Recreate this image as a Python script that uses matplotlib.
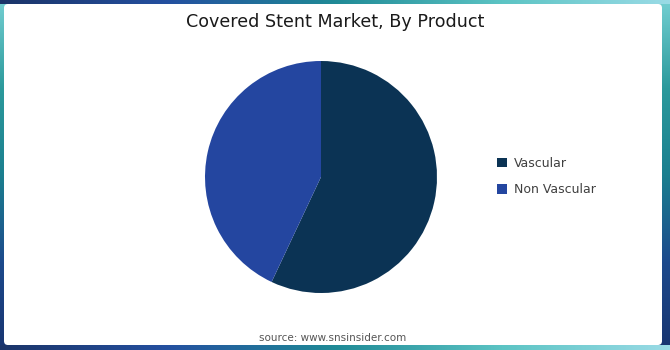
import matplotlib
matplotlib.use("Agg")
import matplotlib.pyplot as plt
import numpy as np
from matplotlib.patches import FancyBboxPatch
from matplotlib.colors import to_rgb

# data
products = ["Vascular", "Non Vascular"]
shares = [57, 43]
slice_colors = ["#0b3354", "#2446a0"]

title = "Covered Stent Market, By Product"
source = "source: www.snsinsider.com"

W, H = 670, 350
fig = plt.figure(figsize=(W / 100, H / 100), dpi=100)

# gradient frame round the card
def ramp(stops, n):
    pos = np.linspace(0, 1, len(stops))
    cols = np.array([to_rgb(c) for c in stops])
    t = np.linspace(0, 1, n)
    return np.stack([np.interp(t, pos, cols[:, k]) for k in range(3)], axis=1)

horiz = ramp(["#1b3468", "#2450a0", "#1f8a96", "#5cc4c4", "#9adbe6"], W)
vert = ramp(["#74cfd2", "#2c9a9c", "#1b7f8f", "#1d4a8c", "#183470"], H)
img = np.repeat(vert[:, None, :], W, axis=1)
img[:4] = horiz
img[H - 5:] = horiz
bg = fig.add_axes([0, 0, 1, 1])
bg.imshow(img, extent=[0, W, H, 0], aspect="auto")
bg.add_patch(FancyBboxPatch((4, 4), W - 12, H - 9,
                            boxstyle="round,pad=0,rounding_size=4",
                            fc="white", ec="none"))
bg.set_xlim(0, W)
bg.set_ylim(H, 0)
bg.axis("off")

fig.text(0.5, 1 - 22 / H, title, ha="center", va="center",
         fontsize=12.6, color="#1a1a1a", family="DejaVu Sans")
fig.text(0.497, 1 - 338 / H, source, ha="center", va="center",
         fontsize=7.5, color="#555555", family="DejaVu Sans")

# pie
cx, cy, r = 321, 177, 116
ax = fig.add_axes([(cx - r) / W, (H - cy - r) / H, 2 * r / W, 2 * r / H])
wedges, _ = ax.pie(shares, colors=slice_colors, startangle=90,
                   counterclock=False, radius=1,
                   wedgeprops=dict(linewidth=0))
ax.set_xlim(-1, 1)
ax.set_ylim(-1, 1)
ax.set_aspect("auto")
ax.axis("off")

leg = fig.legend(wedges, products, loc="upper left",
                 bbox_to_anchor=(486 / W, 1 - 146 / H), frameon=False,
                 fontsize=9, handlelength=0.75, handleheight=0.75,
                 handletextpad=0.6, labelspacing=1.05)
for t in leg.get_texts():
    t.set_color("#404040")

fig.savefig("out.png", dpi=100)
